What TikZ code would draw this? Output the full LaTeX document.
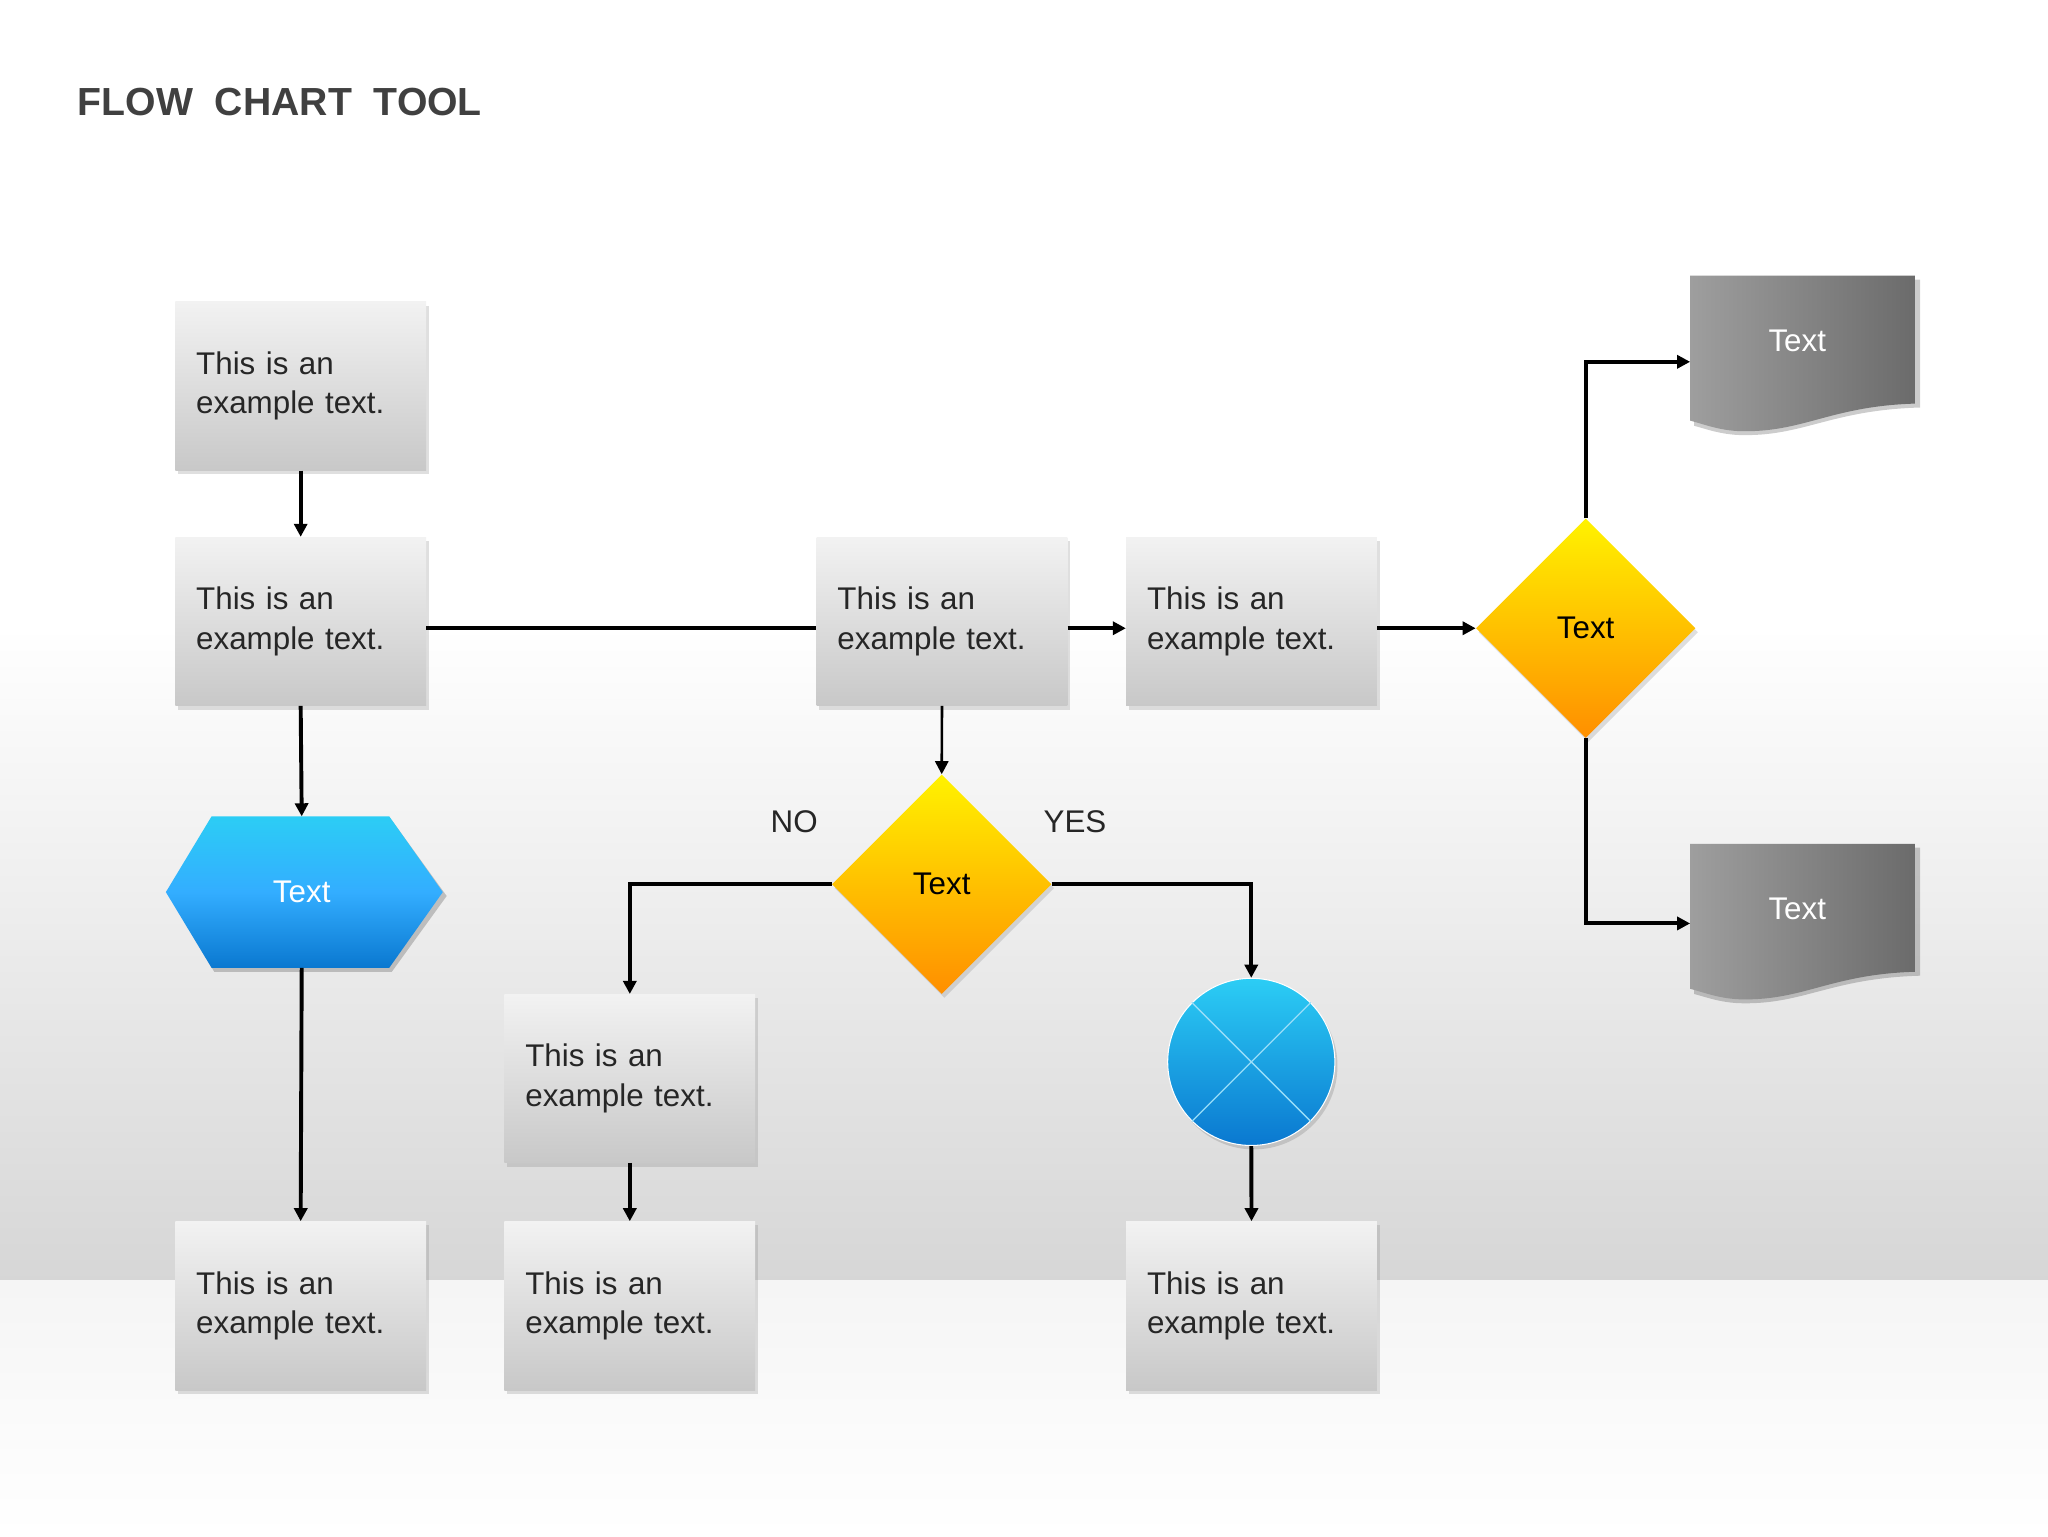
\documentclass[tikz,border=0pt]{standalone}
\usepackage{fontspec}
\setmainfont{Liberation Sans}
\usetikzlibrary{shapes.geometric,shadows,arrows.meta}
\definecolor{boxtop}{HTML}{F2F2F2}
\definecolor{boxbot}{HTML}{C8C8C8}
\definecolor{bdark}{HTML}{0A78D0}
\definecolor{blight}{HTML}{2CCDF5}
\begin{document}
\begin{tikzpicture}[x=1pt,y=-1pt,
  box/.style={rectangle,minimum width=192pt,minimum height=129pt,top color=boxtop,bottom color=boxbot,draw=none,
    drop shadow={opacity=0.25,shadow xshift=2pt,shadow yshift=-3pt},text width=160pt,inner xsep=16pt,align=left,
    font=\fontsize{24}{30}\selectfont,text=black!85,anchor=north west},
  dia/.style={diamond,minimum width=168pt,minimum height=168pt,inner sep=0pt,top color=yellow!90!orange,bottom color=orange!90!red!80!yellow,
    drop shadow={opacity=0.25,shadow xshift=2pt,shadow yshift=-3pt},font=\fontsize{24}{28}\selectfont},
  con/.style={line width=3pt,-{Triangle[length=10pt,width=10pt]}},
  lin/.style={line width=3pt},
  lbl/.style={font=\fontsize{24}{28}\selectfont,text=black!85}]
\useasboundingbox (0,0) rectangle (1568,1176);
\fill[white] (0,0) rectangle (1568,480);
\shade[top color=white,bottom color=black!16] (0,480) rectangle (1568,980);
\shade[top color=black!4,bottom color=white] (0,980) rectangle (1568,1176);
\node[anchor=west,font=\fontsize{30}{34}\selectfont\bfseries,text=black!75] (title) at (56,78) {FLOW\ \ CHART\ \ TOOL};
% boxes
\node[box] (a1) at (134,231) {This is an\\example text.};
\node[box] (a2) at (134,411) {This is an\\example text.};
\node[box] (m1) at (625,411) {This is an\\example text.};
\node[box] (m2) at (862,411) {This is an\\example text.};
\node[box] (b1) at (134,935) {This is an\\example text.};
\node[box] (c1) at (386,761) {This is an\\example text.};
\node[box] (b2) at (386,935) {This is an\\example text.};
\node[box] (b3) at (862,935) {This is an\\example text.};
% diamonds
\node[dia] (d1) at (1214,481) {Text};
\node[dia] (d2) at (721,677) {Text};
% hexagon
\fill[black,opacity=0.2] (164,628)--(300,628)--(342,686)--(300,744)--(164,744)--(130,686)--cycle;
\shade[top color=blight,bottom color=bdark,middle color=cyan!60!blue!80]
  (162,625)--(298,625)--(339,683)--(298,741)--(162,741)--(127,683)--cycle;
\node[font=\fontsize{24}{28}\selectfont,text=white] (hex) at (231,683) {Text};
\coordinate (hexT) at (231,625); \coordinate (hexB) at (231,741);
% circle
\node[circle,minimum size=128pt,inner sep=0pt,draw=white,line width=0.8pt,top color=blight,bottom color=bdark,
  drop shadow={opacity=0.3,shadow xshift=2pt,shadow yshift=-3pt}] (circ) at (958,813) {};
\draw[white!60!cyan,line width=1pt] (circ.north east)--(circ.south west) (circ.north west)--(circ.south east);
% documents
\foreach \y/\n in {211/t1,646/t2}{
  \fill[black,opacity=0.2] (1297,\y+3)--(1470,\y+3)--(1470,\y+101)
    .. controls (1400,\y+103) and (1380,\y+124) .. (1330,\y+122)
    .. controls (1315,\y+121) and (1305,\y+117) .. (1297,\y+115)--cycle;
  \shade[left color=black!38,right color=black!58]
    (1294,\y)--(1466,\y)--(1466,\y+98)
    .. controls (1400,\y+100) and (1380,\y+121) .. (1330,\y+119)
    .. controls (1315,\y+118) and (1305,\y+114) .. (1294,\y+111)--cycle;
  \node[font=\fontsize{24}{28}\selectfont,text=white] (\n) at (1376,\y+50) {Text};
}
\coordinate (t1L) at (1294,277); \coordinate (t2L) at (1294,707);
% connectors
\draw[con] (a1.south) -- (a2.north);
\draw[lin] (a2.east |- 0,481) -- (m1.west |- 0,481);
\draw[con] (m1.east |- 0,481) -- (m2.west |- 0,481);
\draw[con] (m2.east |- 0,481) -- (d1.west);
\draw[con] (d1.north) |- (t1L);
\draw[con] (d1.south) |- (t2L);
\draw[con] (a2.south) -- (hexT);
\draw[con] (hexB) -- (b1.north);
\draw[con,line width=2pt] (m1.south) -- (d2.north);
\draw[con] (d2.west) -| (c1.north);
\draw[con] (d2.east) -| (circ.north);
\draw[con] (c1.south) -- (b2.north);
\draw[con] (circ.south) -- (b3.north);
\node[lbl] (no) at (608,629) {NO};
\node[lbl] (yes) at (823,629) {YES};
\end{tikzpicture}
\end{document}
